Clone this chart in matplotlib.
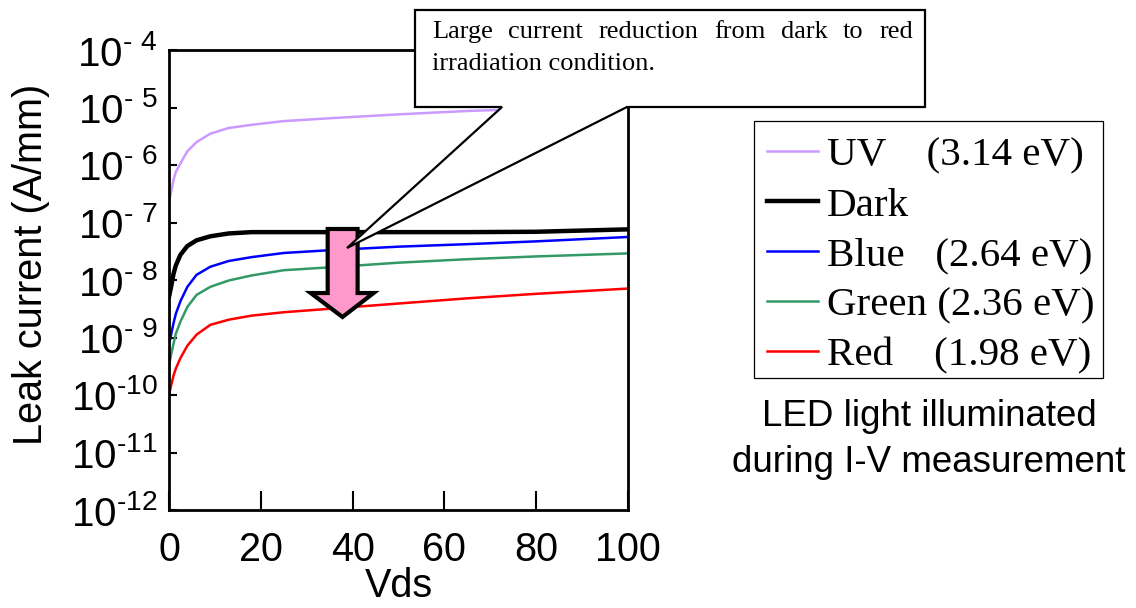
import numpy as np
import matplotlib
matplotlib.use('Agg')
import matplotlib.pyplot as plt
from matplotlib.patches import Polygon, Rectangle

plt.rcParams['font.family'] = 'Liberation Sans'
plt.rcParams['mathtext.fontset'] = 'custom'
plt.rcParams['mathtext.rm'] = 'Liberation Sans'

# Data (Vds in V, leak current in A/mm)

vds = [0, 0.5, 1, 1.5, 2.5, 4, 6, 9, 13, 18, 25, 35, 50, 65, 80, 100]

i_uv = [2.3e-7, 3.5e-7, 5.6e-7, 7.6e-7, 1.07e-6, 1.74e-6, 2.5e-6, 3.5e-6,
        4.4e-6, 5.0e-6, 5.8e-6, 6.5e-6, 7.6e-6, 8.7e-6, 9.5e-6, 1.1e-5]
i_dark = [5.1e-9, 7.9e-9, 1.3e-8, 1.8e-8, 2.75e-8, 3.9e-8, 4.9e-8, 5.75e-8,
          6.45e-8, 6.8e-8, 6.8e-8, 6.8e-8, 6.8e-8, 6.8e-8, 6.9e-8, 7.6e-8]
i_blue = [7.4e-10, 1.17e-9, 1.8e-9, 2.6e-9, 4.3e-9, 7.6e-9, 1.23e-8, 1.7e-8,
          2.14e-8, 2.5e-8, 2.95e-8, 3.3e-8, 3.8e-8, 4.2e-8, 4.7e-8, 5.6e-8]
i_green = [3.3e-10, 5.2e-10, 7.9e-10, 1.17e-9, 1.9e-9, 3.4e-9, 5.5e-9, 7.6e-9,
           9.8e-9, 1.2e-8, 1.48e-8, 1.66e-8, 2.0e-8, 2.3e-8, 2.57e-8, 2.9e-8]
i_red = [1.0e-10, 1.5e-10, 2.2e-10, 2.9e-10, 4.4e-10, 7.2e-10, 1.12e-9, 1.66e-9,
         2.04e-9, 2.4e-9, 2.75e-9, 3.16e-9, 3.9e-9, 4.8e-9, 5.75e-9, 7.1e-9]

labels = ['UV    (3.14 eV)', 'Dark', 'Blue   (2.64 eV)',
          'Green (2.36 eV)', 'Red    (1.98 eV)']
decades = [-12, -11, -10, -9, -8, -7, -6, -5, -4]
xticks = [0, 20, 40, 60, 80, 100]

note_line1 = 'Large current reduction from dark to red'
note_line2 = 'irradiation condition.'

# Figure

W, H = 1136, 608
fig = plt.figure(figsize=(W / 100, H / 100), dpi=100)
ax = fig.add_axes([169 / W, 1 - 510 / H, 459 / W, 460 / H])

def fpx(x, y):
    # figure pixels (from top left) -> figure fraction
    return (x / W, 1 - y / H)

ax.plot(vds, i_uv, color='#CC99FF', lw=1.8, label=labels[0])
ax.plot(vds, i_dark, color='black', lw=3.2, label=labels[1])
ax.plot(vds, i_blue, color='#0000FF', lw=1.8, label=labels[2])
ax.plot(vds, i_green, color='#339966', lw=1.8, label=labels[3])
ax.plot(vds, i_red, color='#FF0000', lw=1.8, label=labels[4])

ax.set_yscale('log')
ax.set_xlim(0, 100)
ax.set_ylim(10.0 ** decades[0], 10.0 ** decades[-1])

# Excel style exponent labels, with a short hyphen instead of a minus sign
HY = '\u2010'

def exp_label(e):
    if e > -10:
        return r'$\mathregular{10^{' + HY + r'\ %d}}$' % (-e)
    return r'$\mathregular{10^{' + HY + r'%d}}$' % (-e)

ax.set_yticks([10.0 ** e for e in decades])
ax.set_yticklabels([exp_label(e) for e in decades])
ax.yaxis.set_minor_locator(matplotlib.ticker.NullLocator())
ax.set_xticks(xticks)

for s in ax.spines.values():
    s.set_linewidth(2)
ax.tick_params(axis='y', direction='in', length=6, width=1.5, labelsize=29, pad=8)
ax.tick_params(axis='x', direction='in', length=14, width=1.5, labelsize=28.5, pad=15)

ax.set_xlabel('Vds', fontsize=28.5, labelpad=-1)
ax.set_ylabel('Leak current (A/mm)', fontsize=28.5)
ax.yaxis.set_label_coords(-0.26, 0.535)

# Pink arrow (axes fraction)
arrow = Polygon([(0.3457, 0.6109), (0.4109, 0.6109), (0.4109, 0.4717),
                 (0.4457, 0.4717), (0.378, 0.4196), (0.3087, 0.4717),
                 (0.3457, 0.4717)],
                closed=True, transform=ax.transAxes, fc='#FF99CC',
                ec='black', lw=3, zorder=5, joinstyle='miter')
ax.add_patch(arrow)

# Callout box
callout = Polygon([fpx(415, 10), fpx(925, 10), fpx(925, 107), fpx(627, 107),
                   fpx(347, 248), fpx(502, 107), fpx(415, 107)],
                  closed=True, transform=fig.transFigure, fc='white',
                  ec='black', lw=1.6, zorder=3, joinstyle='miter')
fig.add_artist(callout)

# first line justified between x=432 and x=913
renderer = fig.canvas.get_renderer()
words = note_line1.split()
texts = [fig.text(0, 0, w, family='Liberation Serif', fontsize=19,
                  va='baseline', zorder=4) for w in words]
widths = [t.get_window_extent(renderer).width for t in texts]
gap = (913 - 432 - sum(widths)) / (len(words) - 1)
x = 432
for t, w in zip(texts, widths):
    t.set_position(fpx(x, 38))
    x += w + gap
fig.text(*fpx(432, 70), note_line2, family='Liberation Serif', fontsize=19,
         va='baseline', zorder=4)

# Legend
leg = ax.legend(loc='upper left', bbox_to_anchor=fpx(754, 124),
                bbox_transform=fig.transFigure, borderaxespad=0,
                prop={'family': 'Liberation Serif', 'size': 29.5},
                frameon=False, borderpad=0.32, handlelength=1.25,
                handletextpad=0.2, labelspacing=0.3)
frame = Rectangle(fpx(754, 378), 349 / W, 257 / H, transform=fig.transFigure,
                  fill=False, ec='black', lw=0.9)
fig.add_artist(frame)

fig.text(*fpx(929, 426), 'LED light illuminated', fontsize=26.5,
         ha='center', va='baseline')
fig.text(*fpx(929, 472), 'during I-V measurement', fontsize=26.5,
         ha='center', va='baseline')

fig.savefig('out.png', dpi=100)
